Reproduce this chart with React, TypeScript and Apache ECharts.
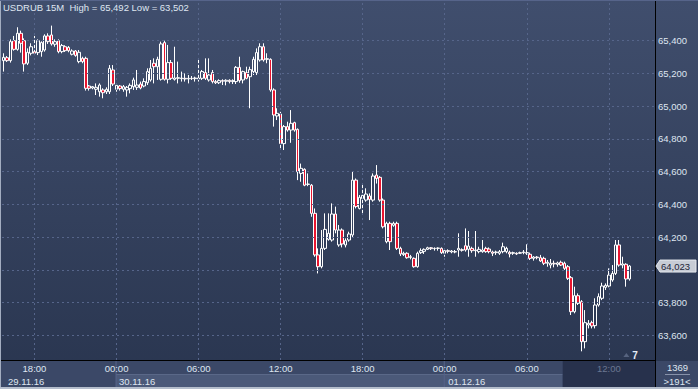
import React, { useEffect, useRef } from "react";
import * as echarts from "echarts";

// ---------- data ----------
const SYMBOL = "USDRUB";
const PERIOD = "15M";
const START_DAY = 29;
const START_MONTH = 11;
const START_MINUTE = 15 * 60 + 45;
const SLOT_MINUTES = 15;
const SLOTS = 191; // 184 bars + 7 empty slots
const EMPTY_SLOTS = 7;
const DATE_LABELS = ["29.11.16", "30.11.16", "01.12.16"];
const GRID_TIMES = ["00:00", "06:00", "12:00", "18:00"];
const Y_TICKS = [63.6, 63.8, 64.0, 64.2, 64.4, 64.6, 64.8, 65.0, 65.2, 65.4];
const BAR_COUNT_TEXT = "1369";
const VISIBLE_TEXT = ">191<";

const OPEN = [
  65.278, 65.296, 65.278, 65.400, 65.347, 65.445, 65.400, 65.262, 65.323, 65.333,
  65.327, 65.333, 65.343, 65.429, 65.435, 65.378, 65.400, 65.333, 65.363, 65.359,
  65.317, 65.337, 65.272, 65.292, 65.292, 65.123, 65.111, 65.103, 65.088, 65.099,
  65.088, 65.088, 65.221, 65.103, 65.123, 65.103, 65.099, 65.107, 65.119, 65.115,
  65.135, 65.123, 65.143, 65.160, 65.262, 65.241, 65.164, 65.388, 65.164, 65.266,
  65.164, 65.170, 65.168, 65.170, 65.166, 65.170, 65.168, 65.166, 65.170, 65.205,
  65.160, 65.205, 65.150, 65.143, 65.156, 65.152, 65.158, 65.150, 65.150, 65.237,
  65.160, 65.205, 65.180, 65.211, 65.205, 65.282, 65.363, 65.286, 65.286, 65.099,
  64.940, 64.952, 64.771, 64.875, 64.854, 64.899, 64.858, 64.589, 64.614, 64.522,
  64.517, 64.345, 64.091, 64.019, 64.131, 64.186, 64.182, 64.341, 64.152, 64.243,
  64.152, 64.182, 64.213, 64.548, 64.375, 64.436, 64.426, 64.451, 64.426, 64.579,
  64.565, 64.426, 64.172, 64.284, 64.272, 64.284, 64.131, 64.093, 64.101, 64.076,
  64.070, 64.019, 64.105, 64.113, 64.125, 64.135, 64.129, 64.131, 64.131, 64.101,
  64.117, 64.109, 64.111, 64.121, 64.123, 64.147, 64.125, 64.131, 64.117, 64.111,
  64.111, 64.131, 64.127, 64.109, 64.105, 64.101, 64.111, 64.111, 64.107, 64.101,
  64.101, 64.101, 64.105, 64.101, 64.095, 64.070, 64.078, 64.074, 64.070, 64.040,
  64.029, 64.040, 64.033, 64.046, 64.040, 64.019, 63.952, 63.744, 63.842, 63.805,
  63.561, 63.663, 63.677, 63.659, 63.785, 63.826, 63.893, 63.901, 63.938, 63.978,
  64.152, 64.029, 64.034, 63.944,
];
const CLOSE = [
  65.298, 65.278, 65.394, 65.347, 65.445, 65.384, 65.258, 65.329, 65.363, 65.323,
  65.400, 65.388, 65.429, 65.394, 65.380, 65.394, 65.333, 65.370, 65.339, 65.339,
  65.337, 65.310, 65.329, 65.272, 65.109, 65.109, 65.119, 65.115, 65.129, 65.082,
  65.103, 65.231, 65.135, 65.127, 65.107, 65.119, 65.115, 65.127, 65.160, 65.129,
  65.111, 65.150, 65.211, 65.231, 65.241, 65.286, 65.380, 65.164, 65.266, 65.170,
  65.172, 65.174, 65.172, 65.166, 65.170, 65.168, 65.172, 65.172, 65.211, 65.170,
  65.190, 65.150, 65.143, 65.156, 65.152, 65.158, 65.150, 65.156, 65.237, 65.156,
  65.211, 65.170, 65.223, 65.286, 65.327, 65.363, 65.282, 65.290, 65.099, 64.946,
  64.956, 64.771, 64.875, 64.854, 64.895, 64.854, 64.599, 64.620, 64.517, 64.524,
  64.345, 64.091, 64.019, 64.131, 64.247, 64.223, 64.341, 64.243, 64.243, 64.158,
  64.178, 64.219, 64.548, 64.386, 64.443, 64.455, 64.463, 64.430, 64.573, 64.558,
  64.426, 64.263, 64.284, 64.172, 64.284, 64.131, 64.097, 64.101, 64.074, 64.080,
  64.019, 64.101, 64.117, 64.125, 64.135, 64.129, 64.131, 64.133, 64.105, 64.117,
  64.113, 64.115, 64.109, 64.131, 64.119, 64.121, 64.145, 64.117, 64.121, 64.125,
  64.121, 64.111, 64.111, 64.101, 64.109, 64.111, 64.141, 64.131, 64.097, 64.105,
  64.097, 64.105, 64.109, 64.105, 64.070, 64.078, 64.074, 64.054, 64.040, 64.046,
  64.040, 64.036, 64.042, 64.029, 64.009, 63.948, 63.744, 63.842, 63.795, 63.561,
  63.677, 63.673, 63.657, 63.785, 63.836, 63.901, 63.905, 63.968, 63.978, 64.152,
  64.029, 64.036, 63.944, 64.023,
];
const LOW = [
  65.211, 65.270, 65.266, 65.339, 65.339, 65.327, 65.211, 65.251, 65.310, 65.312,
  65.312, 65.302, 65.333, 65.380, 65.370, 65.363, 65.323, 65.323, 65.331, 65.329,
  65.310, 65.302, 65.262, 65.262, 65.095, 65.095, 65.103, 65.068, 65.058, 65.048,
  65.074, 65.074, 65.123, 65.088, 65.095, 65.088, 65.058, 65.078, 65.099, 65.099,
  65.103, 65.115, 65.129, 65.150, 65.139, 65.160, 65.156, 65.156, 65.139, 65.160,
  65.156, 65.139, 65.150, 65.150, 65.139, 65.160, 65.150, 65.150, 65.160, 65.160,
  65.150, 65.139, 65.135, 65.135, 65.129, 65.127, 65.139, 65.135, 65.135, 65.143,
  65.139, 65.164, 64.987, 65.190, 65.190, 65.272, 65.272, 65.262, 65.088, 64.875,
  64.915, 64.732, 64.732, 64.844, 64.776, 64.844, 64.548, 64.538, 64.511, 64.511,
  64.324, 64.080, 63.978, 64.009, 64.121, 64.178, 64.172, 64.223, 64.141, 64.137,
  64.137, 64.172, 64.200, 64.375, 64.369, 64.345, 64.416, 64.304, 64.416, 64.527,
  64.416, 64.253, 64.162, 64.121, 64.263, 64.121, 64.084, 64.084, 64.068, 64.064,
  64.013, 64.013, 64.097, 64.097, 64.121, 64.121, 64.117, 64.117, 64.097, 64.080,
  64.101, 64.101, 64.101, 64.080, 64.111, 64.111, 64.080, 64.104, 64.080, 64.101,
  64.104, 64.104, 64.101, 64.084, 64.091, 64.091, 64.101, 64.101, 64.076, 64.091,
  64.091, 64.097, 64.095, 64.091, 64.060, 64.056, 64.064, 64.048, 64.029, 64.019,
  64.009, 64.015, 64.019, 64.023, 63.999, 63.938, 63.724, 63.734, 63.785, 63.502,
  63.520, 63.642, 63.642, 63.642, 63.775, 63.815, 63.877, 63.893, 63.927, 63.968,
  64.019, 64.009, 63.897, 63.934,
];
const HIGH = [
  65.323, 65.306, 65.408, 65.429, 65.482, 65.461, 65.414, 65.353, 65.384, 65.429,
  65.408, 65.396, 65.439, 65.445, 65.492, 65.408, 65.408, 65.380, 65.372, 65.367,
  65.347, 65.343, 65.343, 65.302, 65.302, 65.129, 65.123, 65.139, 65.139, 65.109,
  65.115, 65.251, 65.251, 65.139, 65.129, 65.129, 65.123, 65.139, 65.174, 65.221,
  65.150, 65.170, 65.231, 65.282, 65.292, 65.302, 65.394, 65.400, 65.374, 65.282,
  65.363, 65.272, 65.211, 65.200, 65.190, 65.184, 65.180, 65.282, 65.221, 65.292,
  65.292, 65.221, 65.160, 65.164, 65.164, 65.164, 65.164, 65.164, 65.245, 65.302,
  65.217, 65.241, 65.241, 65.302, 65.353, 65.384, 65.384, 65.323, 65.292, 65.109,
  64.987, 64.965, 64.885, 64.905, 64.976, 64.905, 64.864, 64.649, 64.620, 64.589,
  64.524, 64.375, 64.131, 64.243, 64.345, 64.345, 64.406, 64.386, 64.274, 64.253,
  64.192, 64.233, 64.599, 64.558, 64.457, 64.527, 64.498, 64.467, 64.589, 64.640,
  64.573, 64.436, 64.294, 64.294, 64.294, 64.294, 64.141, 64.111, 64.107, 64.091,
  64.076, 64.111, 64.131, 64.131, 64.141, 64.139, 64.137, 64.137, 64.137, 64.125,
  64.125, 64.121, 64.121, 64.223, 64.131, 64.253, 64.237, 64.141, 64.237, 64.141,
  64.182, 64.141, 64.137, 64.117, 64.117, 64.121, 64.166, 64.141, 64.117, 64.111,
  64.107, 64.111, 64.121, 64.156, 64.105, 64.084, 64.084, 64.091, 64.080, 64.060,
  64.066, 64.056, 64.050, 64.056, 64.050, 64.029, 63.962, 63.897, 63.856, 63.815,
  63.754, 63.693, 63.689, 63.826, 63.856, 63.921, 63.917, 64.009, 64.029, 64.182,
  64.182, 64.080, 64.040, 64.029,
];

// axis range (value at top and bottom of plot)
const Y_MIN = 63.449;
const Y_MAX = 65.6485;

// ---------- helpers ----------
const pad = (n: number) => (n < 10 ? "0" + n : "" + n);
const fmt = (v: number) => v.toFixed(3).replace(".", ",");

const CATEGORIES: string[] = [];
for (let i = 0; i < SLOTS; i++) {
  const t = START_MINUTE + i * SLOT_MINUTES;
  let day = START_DAY + Math.floor(t / 1440);
  let month = START_MONTH;
  if (day > 30) {
    day -= 30;
    month += 1;
  }
  const m = t % 1440;
  CATEGORIES.push(`${pad(day)}.${pad(month)} ${pad(Math.floor(m / 60))}:${pad(m % 60)}`);
}
const isGridCat = (c: string) => GRID_TIMES.indexOf(c.slice(-5)) >= 0;
const GRID_CATS = CATEGORIES.filter(isGridCat);
const DAY_START_CATS = CATEGORIES.filter((c) => c.slice(-5) === "00:00");

const CANDLES = OPEN.map((o, i) => [o, CLOSE[i], LOW[i], HIGH[i]]);

const FONT = "'Liberation Sans', Arial, sans-serif";
const TEXT = "#dfe6f1";
const DIM = "#6b7791";
const GRID_LINE = { color: "#56658a", type: [2, 3], width: 1 };

export default function App() {
  const ref = useRef<HTMLDivElement>(null);

  useEffect(() => {
    if (!ref.current) return;
    const chart = echarts.init(ref.current, null, { renderer: "svg", width: 698, height: 389 });
    const hi = Math.max(...HIGH);
    const lo = Math.min(...LOW);
    const lastIdx = CLOSE.length - 1;
    const lastClose = CLOSE[lastIdx];
    const sessionFrom = CATEGORIES[164];
    const sessionIdx = CATEGORIES.indexOf(sessionFrom);

    chart.setOption({
      animation: false,
      backgroundColor: {
        type: "linear", x: 0, y: 0, x2: 0, y2: 1,
        colorStops: [
          { offset: 0, color: "#404e6d" },
          { offset: 1, color: "#29354f" },
        ],
      },
      title: {
        text: `${SYMBOL} ${PERIOD}  High = ${fmt(hi)} Low = ${fmt(lo)}`,
        left: 2,
        top: 2,
        padding: [0, 0, 0, 1],
        textStyle: { color: TEXT, fontSize: 9.5, fontWeight: "normal", fontFamily: FONT },
      },
      grid: { left: 2, right: 43, top: 0, bottom: 29 },
      xAxis: {
        type: "category",
        data: CATEGORIES,
        boundaryGap: true,
        axisLine: { show: false },
        axisTick: { show: false },
        splitLine: { show: false },
        axisLabel: {
          interval: (_i: number, v: string) => isGridCat(v),
          formatter: (v: string) => v.slice(-5),
          color: (v: string) => (CATEGORIES.indexOf(v) >= sessionIdx ? DIM : TEXT),
          fontSize: 9.5,
          fontFamily: FONT,
          margin: 3,
        },
      },
      yAxis: {
        type: "value",
        position: "right",
        min: Y_MIN,
        max: Y_MAX,
        splitNumber: 11,
        minInterval: 0.2,
        maxInterval: 0.2,
        axisLine: { show: false },
        axisTick: { show: false },
        splitLine: { show: false },
        axisLabel: {
          showMinLabel: false,
          showMaxLabel: false,
          formatter: (v: number) => {
            const known = Y_TICKS.some((t) => Math.abs(t - v) < 1e-6);
            if (!known || Math.abs(v - lastClose) < 0.045) return "";
            return fmt(v);
          },
          color: TEXT,
          fontSize: 9.5,
          fontFamily: FONT,
          margin: 3,
        },
      },
      series: [
        {
          type: "line",
          data: [],
          z: 1,
          silent: true,
          markLine: {
            silent: true,
            symbol: ["none", "none"],
            label: { show: false },
            lineStyle: GRID_LINE,
            emphasis: { disabled: true },
            data: [
              ...GRID_CATS.map((c) => ({ xAxis: c })),
              ...Y_TICKS.map((t) => ({ yAxis: t })),
            ],
          },
        },
        {
          type: "candlestick",
          data: CANDLES,
          barWidth: 3,
          z: 3,
          itemStyle: {
            color: "rgba(0,0,0,0)",
            color0: "#e8152f",
            borderColor: "#ffffff",
            borderColor0: "#ffffff",
            borderColorDoji: "#ffffff",
            borderWidth: 1,
          },
        },
      ],
    });

    const px = (c: string) => chart.convertToPixel({ xAxisIndex: 0 }, c) as number;
    const day1 = px(DAY_START_CATS[0]) - 0.5;
    const day2 = px(DAY_START_CATS[1]) - 0.5;
    const sessionX = px(sessionFrom) - 1.7;
    const lastY = chart.convertToPixel({ yAxisIndex: 0 }, lastClose) as number;
    const gridRight = 655;
    const markerX = px(CATEGORIES[lastIdx]) - 2;

    const bg = "#3b4867";
    const panel = "#4b5979";
    const textStyle = { fill: TEXT, fontSize: 9.5, fontFamily: FONT };

    chart.setOption({
      graphic: [
        // bottom time-axis band
        { type: "rect", z: -1, silent: true, shape: { x: 0, y: 361, width: gridRight, height: 28 }, style: { fill: bg } },
        { type: "rect", z: -1, silent: true, shape: { x: day1, y: 374, width: day2 - day1, height: 14 }, style: { fill: panel } },
        { type: "rect", z: -1, silent: true, shape: { x: day2, y: 374, width: sessionX - day2, height: 14 }, style: { fill: panel } },
        { type: "line", z: -1, silent: true, shape: { x1: day1, y1: 374.5, x2: sessionX, y2: 374.5 }, style: { stroke: "#5a6888", lineWidth: 1 } },
        { type: "line", z: -1, silent: true, shape: { x1: day1, y1: 361, x2: day1, y2: 388 }, style: { stroke: "#56648a", lineWidth: 1 } },
        { type: "line", z: -1, silent: true, shape: { x1: day2, y1: 361, x2: day2, y2: 388 }, style: { stroke: "#56648a", lineWidth: 1 } },
        { type: "rect", z: -1, silent: true, shape: { x: sessionX, y: 361, width: gridRight - sessionX, height: 27 }, style: { fill: "#27314c" } },
        // date labels
        { type: "text", z: 5, silent: true, style: { ...textStyle, text: DATE_LABELS[0], x: 8, y: 381, verticalAlign: "middle" } },
        { type: "text", z: 5, silent: true, style: { ...textStyle, text: DATE_LABELS[1], x: day1 + 3, y: 381, verticalAlign: "middle" } },
        { type: "text", z: 5, silent: true, style: { ...textStyle, text: DATE_LABELS[2], x: day2 + 4, y: 381, verticalAlign: "middle" } },
        // bottom right info box
        { type: "rect", z: -1, silent: true, shape: { x: gridRight, y: 361, width: 43, height: 27 }, style: { fill: bg } },
        { type: "text", z: 5, silent: true, style: { ...textStyle, text: BAR_COUNT_TEXT, x: 677.5, y: 367.5, align: "center", verticalAlign: "middle" } },
        { type: "line", z: 5, silent: true, shape: { x1: 665, y1: 374.5, x2: 690, y2: 374.5 }, style: { stroke: "#8792aa", lineWidth: 1 } },
        { type: "text", z: 5, silent: true, style: { ...textStyle, text: VISIBLE_TEXT, x: 677, y: 381, align: "center", verticalAlign: "middle" } },
        // frame lines
        { type: "line", z: 6, silent: true, shape: { x1: 0, y1: 360.5, x2: gridRight + 0.5, y2: 360.5 }, style: { stroke: "#000000", lineWidth: 1.2 } },
        { type: "line", z: 6, silent: true, shape: { x1: gridRight + 0.5, y1: 0, x2: gridRight + 0.5, y2: 389 }, style: { stroke: "#000000", lineWidth: 1 } },
        { type: "line", z: 6, silent: true, shape: { x1: 0.5, y1: 0, x2: 0.5, y2: 389 }, style: { stroke: "#a3adc0", lineWidth: 1 } },
        { type: "line", z: 6, silent: true, shape: { x1: 0, y1: 388, x2: 698, y2: 388 }, style: { stroke: "#b4bdcc", lineWidth: 2 } },
        { type: "line", z: 6, silent: true, shape: { x1: 0, y1: 0.5, x2: 698, y2: 0.5 }, style: { stroke: "#56648a", lineWidth: 1 } },
        // shift marker
        { type: "polygon", z: 6, silent: true, shape: { points: [[markerX - 4, 357], [markerX - 1, 353], [markerX + 2, 357]] }, style: { fill: "#56637f" } },
        { type: "text", z: 6, silent: true, style: { text: String(EMPTY_SLOTS), x: markerX + 5, y: 355, verticalAlign: "middle", fill: "#e8eef8", fontSize: 10, fontWeight: "bold", fontFamily: FONT } },
        // last price label
        {
          type: "polygon", z: 10, silent: true,
          shape: { points: [[gridRight + 1, lastY], [gridRight + 5, lastY - 6], [696, lastY - 6], [696, lastY + 6], [gridRight + 5, lastY + 6]] },
          style: { fill: "#c7ccd5", stroke: "#e6e9ee", lineWidth: 1 },
        },
        { type: "text", z: 11, silent: true, style: { text: fmt(lastClose), x: 661, y: lastY + 0.5, verticalAlign: "middle", fill: "#1d2436", fontSize: 9.5, fontFamily: FONT } },
      ],
    });

    return () => chart.dispose();
  }, []);

  return <div ref={ref} style={{ position: "absolute", left: 0, top: 0, width: 698, height: 389 }} />;
}
